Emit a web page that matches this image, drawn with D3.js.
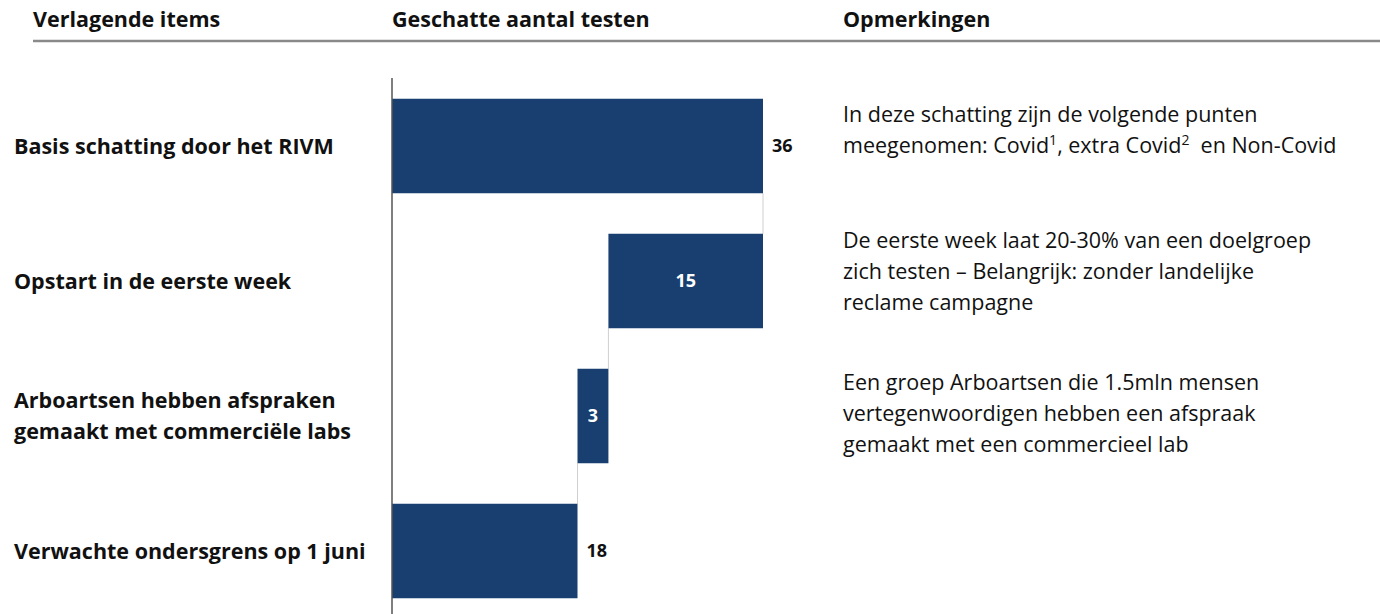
<!DOCTYPE html>
<html>
<head>
<meta charset="utf-8">
<script src="https://cdn.jsdelivr.net/npm/d3@7"></script>
<style>
    body { margin: 0; background: #fff; }
    svg text { font-family: "Open Sans", Lato, sans-serif; white-space: pre; }
</style>
</head>
<body>
<div id="chart"></div>
<script>
// waterfall data
var items = ["Basis schatting door het RIVM", "Opstart in de eerste week",
    "Arboartsen hebben afspraken|gemaakt met commerciële labs", "Verwachte ondersgrens op 1 juni"];
var changes = [36, -15, -3, 18];
var isTotal = [true, false, false, true];
var headers = ["Verlagende items", "Geschatte aantal testen", "Opmerkingen"];
var remarks = [
    ["In deze schatting zijn de volgende punten", "meegenomen: Covid^1, extra Covid^2  en Non-Covid"],
    ["De eerste week laat 20-30% van een doelgroep", "zich testen \u2013 Belangrijk: zonder landelijke", "reclame campagne"],
    ["Een groep Arboartsen die 1.5mln mensen", "vertegenwoordigen hebben een afspraak", "gemaakt met een commercieel lab"],
    []
];

var width = 1380, height = 614;
var barColor = "#183f6f";
var remarkNudge = [3, -6, 1, 0];   // text boxes in the original are not aligned the same

var svg = d3.select("#chart").append("svg")
    .attr("width", width)
    .attr("height", height);

// compute start/end of every bar
var bars = [];
var running = 0;
items.forEach(function(d, i) {
    var start, end;
    if (isTotal[i]) {
        start = 0; end = changes[i]; running = changes[i];
    } else {
        start = running; end = running + changes[i]; running = end;
    }
    bars.push({item: d, start: start, end: end, value: Math.abs(changes[i]), total: isTotal[i], remark: remarks[i]});
});

var x = d3.scaleLinear().domain([0, 36]).range([392, 763]);
var y = d3.scaleBand().domain(items).range([78.5, 618.5]).paddingInner(0.3).paddingOuter(0.15);

// header row
var headerX = [33, 392, 843];
svg.selectAll(".header")
    .data(headers)
    .enter()
    .append("text")
    .attr("x", function(d, i) { return headerX[i]; })
    .attr("y", 27)
    .attr("font-size", 21.5)
    .attr("font-weight", "bold")
    .attr("fill", "#111")
    .text(function(d) { return d; });

svg.append("line")
    .attr("x1", 33).attr("x2", width)
    .attr("y1", 41).attr("y2", 41)
    .attr("stroke", "#8a8a8a")
    .attr("stroke-width", 2.5);

// connectors between bars
for (var i = 0; i < bars.length - 1; i++) {
    svg.append("line")
        .attr("x1", x(bars[i].end)).attr("x2", x(bars[i].end))
        .attr("y1", y(bars[i].item) + y.bandwidth())
        .attr("y2", y(bars[i + 1].item))
        .attr("stroke", "#cfcfcf")
        .attr("stroke-width", 1);
}

svg.selectAll(".bar")
    .data(bars)
    .enter()
    .append("rect")
    .attr("x", function(d) { return x(Math.min(d.start, d.end)); })
    .attr("width", function(d) { return Math.abs(x(d.end) - x(d.start)); })
    .attr("y", function(d) { return y(d.item); })
    .attr("height", y.bandwidth())
    .attr("fill", barColor);

// axis line
svg.append("line")
    .attr("x1", 392).attr("x2", 392)
    .attr("y1", 78).attr("y2", height)
    .attr("stroke", "#555")
    .attr("stroke-width", 1.5);

// value labels: totals outside, deltas inside
svg.selectAll(".value")
    .data(bars)
    .enter()
    .append("text")
    .attr("x", function(d) {
        return d.total ? x(d.end) + 9 : (x(d.start) + x(d.end)) / 2;
    })
    .attr("y", function(d) { return y(d.item) + y.bandwidth() / 2; })
    .attr("dy", "0.35em")
    .attr("text-anchor", function(d) { return d.total ? "start" : "middle"; })
    .attr("font-size", 18)
    .attr("font-weight", "bold")
    .attr("fill", function(d) { return d.total ? "#111" : "#fff"; })
    .text(function(d) { return d.value; });

// category labels + remarks
var lineH = 31;
bars.forEach(function(d, i) {
    var lines = d.item.split("|");
    var cy = y(d.item) + y.bandwidth() / 2;
    var t = svg.append("text")
        .attr("font-size", 21.5)
        .attr("font-weight", "bold")
        .attr("fill", "#111");
    lines.forEach(function(l, j) {
        t.append("tspan")
            .attr("x", 14)
            .attr("y", cy + (j - (lines.length - 1) / 2) * lineH)
            .attr("dy", "0.35em")
            .text(l);
    });

    var rTop = y(d.item) + 20 + remarkNudge[i];
    d.remark.forEach(function(l, j) {
        var rt = svg.append("text")
            .attr("x", 843)
            .attr("y", rTop + j * lineH)
            .attr("font-size", 21.5)
            .attr("fill", "#111");
        var parts = l.split(/\^(\d)/);
        var raised = false;
        parts.forEach(function(p, k) {
            if (k % 2 === 1) {
                rt.append("tspan").attr("dy", -8).attr("font-size", 14).text(p);
                raised = true;
            } else if (p.length) {
                var s = rt.append("tspan").text(p);
                if (raised) { s.attr("dy", 8); raised = false; }
            }
        });
    });
});
</script>
</body>
</html>
